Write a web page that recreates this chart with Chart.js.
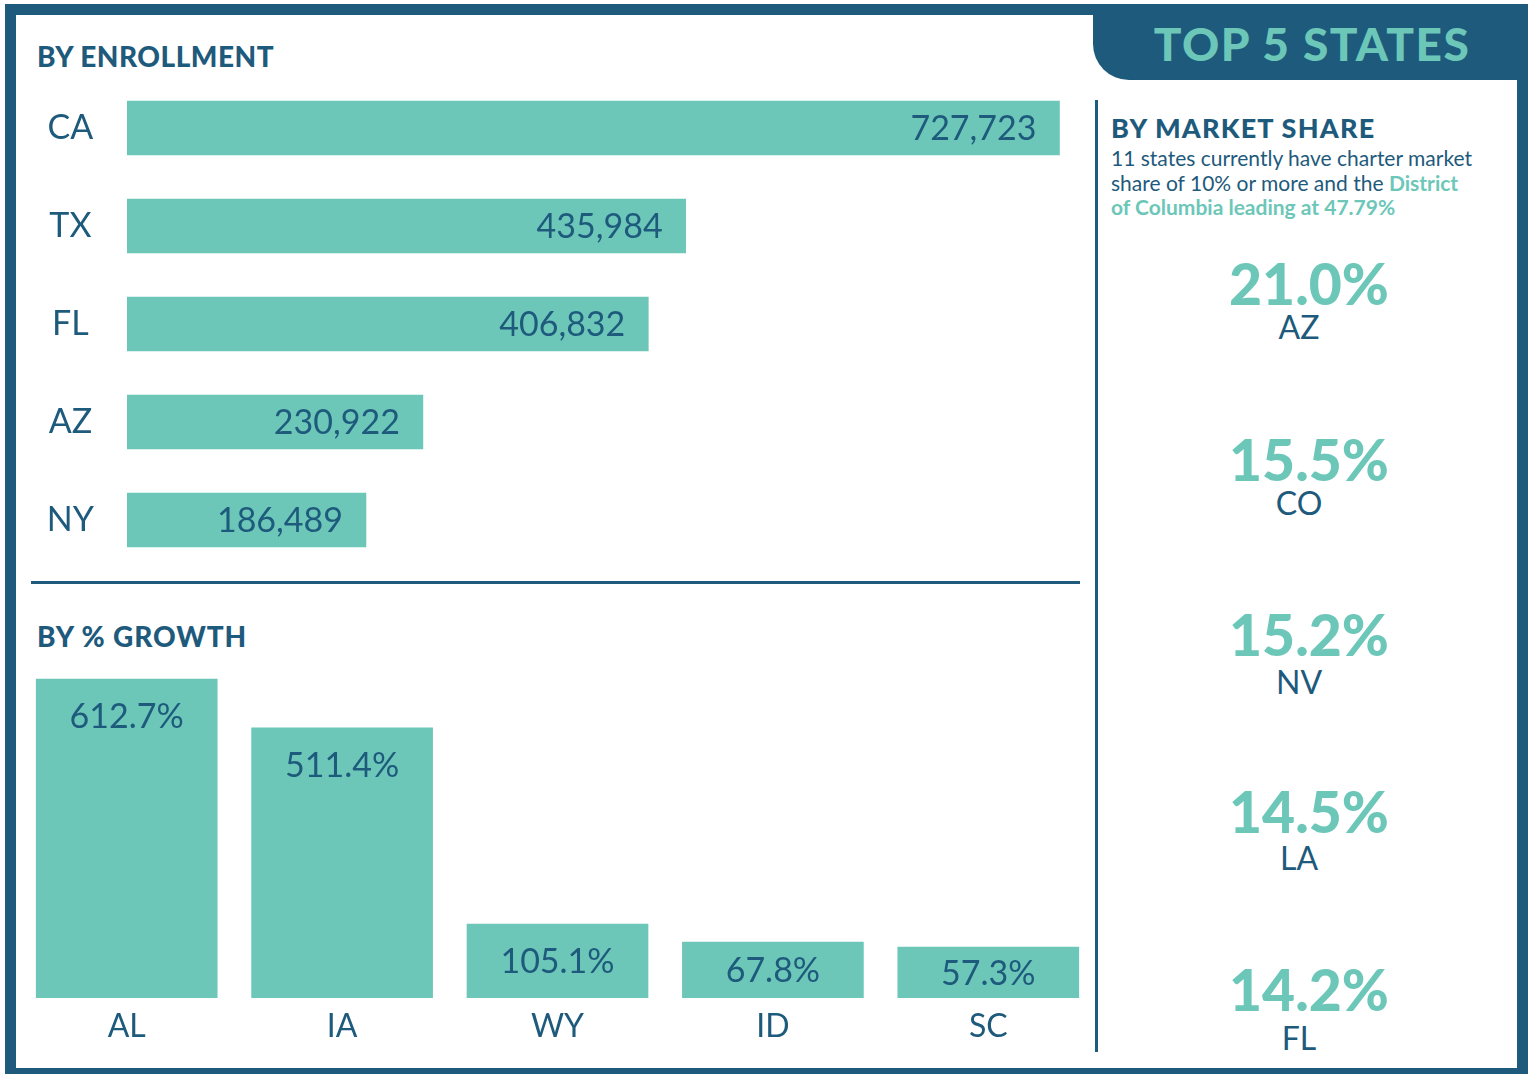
<!DOCTYPE html>
<html>
<head>
<meta charset="utf-8">
<script src="https://cdn.jsdelivr.net/npm/chart.js@4.4.1/dist/chart.umd.min.js"></script>
<style>
html,body{margin:0;padding:0;background:#fff;width:1533px;height:1074px;overflow:hidden;font-family:Lato,sans-serif;}
#frame{position:absolute;left:5px;top:4px;width:1523px;height:1075px;border:11px solid #1e5a7c;box-sizing:border-box;}
#tab{position:absolute;left:1093px;top:4px;width:435px;height:76px;background:#1e5a7c;border-bottom-left-radius:36px;}
#vline{position:absolute;left:1095px;top:100px;width:3px;height:952px;background:#1e5a7c;}
#hline{position:absolute;left:31px;top:581px;width:1049px;height:3px;background:#1e5a7c;}
.t{position:absolute;white-space:nowrap;line-height:1;}
#c1{position:absolute;left:31px;top:79px;}
#c2{position:absolute;left:19px;top:661px;}
#para{position:absolute;left:1111px;top:146px;font-size:21px;line-height:24.7px;color:#1e5a7c;white-space:nowrap;}
#para b{color:#6cc7b9;font-weight:700;}
</style>
</head>
<body>
<div id="frame"></div>
<div id="tab"></div>
<div id="vline"></div>
<div id="hline"></div>
<canvas id="c1" width="1057" height="490"></canvas>
<canvas id="c2" width="1077" height="389"></canvas>
<div id="para">11 states currently have charter market<br>share of 10% or more and the <b>District</b><br><b>of Columbia leading at 47.79%</b></div>
<script>
// ---- data ----
const enrollStates = ['CA', 'TX', 'FL', 'AZ', 'NY'];
const enrollValues = [727723, 435984, 406832, 230922, 186489];
const growthStates = ['AL', 'IA', 'WY', 'ID', 'SC'];
const growthValues = [612.7, 511.4, 105.1, 67.8, 57.3];
const shareStates = ['AZ', 'CO', 'NV', 'LA', 'FL'];
const shareValues = [21.0, 15.5, 15.2, 14.5, 14.2];

const NAVY = '#1e5a7c';
const TEAL = '#6cc7b9';

function T(text, x, baseline, size, weight, color, align, extra) {
  const d = document.createElement('div');
  d.className = 't';
  d.textContent = text;
  d.style.fontSize = size + 'px';
  d.style.fontWeight = weight;
  d.style.color = color;
  d.style.top = (baseline - 0.887 * size) + 'px';
  if (align === 'center') { d.style.left = x + 'px'; d.style.transform = 'translateX(-50%)'; }
  else d.style.left = x + 'px';
  if (extra) Object.assign(d.style, extra);
  document.body.appendChild(d);
  return d;
}

T('BY ENROLLMENT', 37, 67, 28, 900, NAVY, 'left', {letterSpacing: '0.5px'});
T('BY % GROWTH', 37, 647, 28, 900, NAVY, 'left', {letterSpacing: '0.9px'});
T('TOP 5 STATES', 1312, 62, 46, 900, TEAL, 'center', {letterSpacing: '1.5px'});
T('BY MARKET SHARE', 1111, 138, 27, 900, NAVY, 'left', {letterSpacing: '1.2px'});

const numBase = [306, 482, 657, 834, 1012];
const labBase = [339, 515, 694, 870, 1050];
shareValues.forEach((v, i) => {
  T(v.toFixed(1) + '%', 1309, numBase[i], 57, 900, TEAL, 'center');
  T(shareStates[i], 1299, labBase[i], 32, 400, NAVY, 'center');
});

// ---- enrollment chart ----
const enrollLabels = {
  id: 'enrollLabels',
  afterDatasetsDraw(chart) {
    const ctx = chart.ctx;
    const meta = chart.getDatasetMeta(0);
    ctx.save();
    ctx.font = '34px Lato';
    ctx.fillStyle = NAVY;
    ctx.textAlign = 'right';
    ctx.textBaseline = 'alphabetic';
    meta.data.forEach((bar, i) => {
      ctx.fillText(enrollValues[i].toLocaleString('en-US'), bar.x - 23, bar.y + 0.36 * 34);
    });
    ctx.restore();
  }
};

new Chart(document.getElementById('c1'), {
  type: 'bar',
  data: {
    labels: enrollStates,
    datasets: [{ data: enrollValues, backgroundColor: TEAL, borderWidth: 0, barThickness: 54 }]
  },
  options: {
    indexAxis: 'y',
    responsive: false,
    animation: false,
    events: [],
    layout: { padding: 0 },
    plugins: { legend: { display: false }, tooltip: { enabled: false } },
    scales: {
      x: { display: false, min: 0, max: 750000 },
      y: {
        grid: { display: false, drawTicks: false },
        border: { display: false },
        ticks: { color: NAVY, font: { family: 'Lato', size: 34 }, crossAlign: 'center', padding: 33 },
        afterFit: (s) => { s.width = 96; s.paddingTop = 0; s.paddingBottom = 0; }
      }
    }
  },
  plugins: [enrollLabels]
});

// ---- growth chart ----
const growthLabels = {
  id: 'growthLabels',
  afterDatasetsDraw(chart) {
    const ctx = chart.ctx;
    const meta = chart.getDatasetMeta(0);
    ctx.save();
    ctx.font = '34px Lato';
    ctx.fillStyle = NAVY;
    ctx.textAlign = 'center';
    ctx.textBaseline = 'alphabetic';
    meta.data.forEach((bar, i) => {
      const h = bar.base - bar.y;
      const cy = bar.y + Math.min(37, h / 2);
      ctx.fillText(growthValues[i].toFixed(1) + '%', bar.x, cy + 0.36 * 34);
    });
    ctx.restore();
  }
};

new Chart(document.getElementById('c2'), {
  type: 'bar',
  data: {
    labels: growthStates,
    datasets: [{ data: growthValues, backgroundColor: TEAL, borderWidth: 0, barThickness: 181, base: -48 }]
  },
  options: {
    responsive: false,
    animation: false,
    events: [],
    layout: { padding: 0 },
    plugins: { legend: { display: false }, tooltip: { enabled: false } },
    scales: {
      y: { display: false, min: -48, max: 650 },
      x: {
        grid: { display: false, drawTicks: false },
        border: { display: false },
        ticks: { color: NAVY, font: { family: 'Lato', size: 32 }, padding: 9, maxRotation: 0, autoSkip: false },
        afterFit: (s) => { s.height = 52; s.paddingLeft = 0; s.paddingRight = 0; }
      }
    }
  },
  plugins: [growthLabels]
});
</script>
</body>
</html>
